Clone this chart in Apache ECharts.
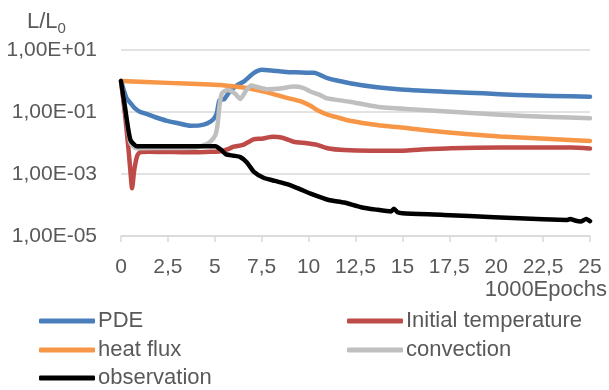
<!DOCTYPE html>
<html>
<head>
<meta charset="utf-8">
<script src="https://cdn.jsdelivr.net/npm/echarts@6/dist/echarts.min.js"></script>
<style>html,body{margin:0;padding:0;background:#fff}#c{width:609px;height:390px}</style>
</head>
<body>
<div id="c"></div>
<script>
// ---- data ----
const seriesNames = ["PDE", "Initial temperature", "heat flux", "convection", "observation"];
const xTicks = [0, 2.5, 5, 7.5, 10, 12.5, 15, 17.5, 20, 22.5, 25];

const pdeX = [0, 0.15, 0.3, 0.5, 0.75, 1.0, 1.4, 1.8, 2.45, 3.0, 3.7, 4.2, 4.6, 4.9, 5.1, 5.25, 5.5, 5.75, 6.2, 6.54, 7.07, 7.5, 8.0, 8.67, 9.3, 9.9, 10.3, 11.0, 12.2, 13.65, 15.4, 17.6, 19.3, 21.1, 23, 25];
const pdeY = [1.0, 0.5, 0.275, 0.195, 0.13, 0.102, 0.085, 0.069, 0.052, 0.044, 0.036, 0.037, 0.043, 0.056, 0.089, 0.24, 0.26, 0.42, 0.74, 0.95, 1.78, 2.29, 2.19, 2.0, 1.9, 1.86, 1.86, 1.23, 0.85, 0.63, 0.51, 0.44, 0.40, 0.355, 0.33, 0.31];

const tempX = [0, 0.2, 0.4, 0.5, 0.59, 0.7, 0.85, 1.0, 1.5, 2.5, 3.5, 4.5, 5.0, 5.3, 5.7, 6.0, 6.5, 7.07, 7.5, 8.1, 8.6, 9.2, 9.9, 10.45, 11.0, 11.9, 13.3, 14.7, 16, 17.6, 20.2, 22.9, 24, 25];
const tempY = [1.0, 0.1, 0.0063, 0.00126, 0.000347, 0.00126, 0.00363, 0.005, 0.00525, 0.00513, 0.005, 0.00513, 0.00525, 0.00537, 0.0063, 0.0076, 0.0087, 0.0132, 0.0138, 0.0158, 0.0148, 0.011, 0.0098, 0.0087, 0.0068, 0.0059, 0.0056, 0.0056, 0.0062, 0.0068, 0.0071, 0.0072, 0.0071, 0.0066];

const fluxX = [0, 2.5, 5.0, 5.3, 6.4, 7.0, 7.8, 8.8, 9.55, 10.1, 10.5, 11.0, 11.5, 12.2, 13.65, 15.4, 17.6, 20.2, 22.9, 25];
const fluxY = [1.0, 0.87, 0.76, 0.74, 0.63, 0.55, 0.43, 0.29, 0.224, 0.158, 0.112, 0.083, 0.068, 0.052, 0.038, 0.0295, 0.0214, 0.0162, 0.0135, 0.0117];

const convX = [0, 0.2, 0.5, 0.8, 1.0, 2.5, 4.0, 4.5, 4.76, 5.03, 5.15, 5.25, 5.38, 5.65, 5.83, 6.1, 6.36, 6.7, 6.95, 7.3, 7.8, 8.5, 9.2, 9.7, 10.1, 10.6, 11.0, 12.2, 13.65, 15.4, 17.6, 20.2, 22.9, 25];
const convY = [1.0, 0.158, 0.01, 0.0068, 0.0068, 0.0069, 0.0072, 0.0089, 0.011, 0.018, 0.04, 0.158, 0.40, 0.51, 0.49, 0.38, 0.263, 0.525, 0.71, 0.63, 0.54, 0.575, 0.66, 0.6, 0.457, 0.355, 0.275, 0.214, 0.148, 0.123, 0.102, 0.081, 0.069, 0.063];

const obsX = [0, 0.2, 0.5, 0.85, 2.5, 4.5, 5.03, 5.3, 5.6, 6.0, 6.36, 6.7, 7.07, 7.6, 8.2, 8.85, 9.56, 10.1, 11.07, 11.9, 12.8, 13.6, 14.4, 14.55, 14.75, 15.0, 17.2, 19.9, 22.5, 23.8, 23.95, 24.2, 24.5, 24.8, 25];
const obsY = [1.0, 0.158, 0.0126, 0.0079, 0.0079, 0.0079, 0.0079, 0.0063, 0.0043, 0.0039, 0.0035, 0.0024, 0.0012, 0.00076, 0.0006, 0.00047, 0.00032, 0.000234, 0.000145, 0.00012, 0.000085, 0.000071, 0.000062, 0.000076, 0.000058, 0.000054, 0.000048, 0.00004, 0.0000347, 0.0000331, 0.0000355, 0.0000316, 0.0000295, 0.0000355, 0.000030];

// ---- chart ----
const colors = ["#4a7ebb", "#be4b48", "#f79646", "#bfbfbf", "#000000"];
const xs = [pdeX, tempX, fluxX, convX, obsX];
const ys = [pdeY, tempY, fluxY, convY, obsY];
const FONT = "Liberation Sans";
const TXT = "#595959";

function sci(v) {
  const e = Math.round(Math.log10(v));
  const s = e < 0 ? "-" : "+";
  const a = Math.abs(e);
  return "1,00E" + s + (a < 10 ? "0" : "") + a;
}

const legendPos = [
  {left: 39, top: 309}, {left: 347, top: 309},
  {left: 39, top: 338}, {left: 347, top: 338},
  {left: 39, top: 366}
];

const chart = echarts.init(document.getElementById("c"), null, {renderer: "canvas"});
chart.setOption({
  animation: false,
  backgroundColor: "#fff",
  color: colors,
  title: {
    text: "{a|L/L}{b|0}",
    left: 27, top: 8, padding: 0,
    textStyle: {
      rich: {
        a: {fontFamily: FONT, fontSize: 22, color: TXT, fontWeight: "normal"},
        b: {fontFamily: FONT, fontSize: 15, color: TXT, padding: [13, 0, 0, 0], fontWeight: "normal"}
      }
    }
  },
  graphic: [{
    type: "text", right: 2, top: 279,
    style: {text: "1000Epochs", font: "22px '" + FONT + "'", fill: TXT}
  }],
  legend: seriesNames.map((n, i) => ({
    data: [n], left: legendPos[i].left, top: legendPos[i].top,
    icon: "roundRect", itemWidth: 56, itemHeight: 5, padding: 0,
    textStyle: {fontFamily: FONT, fontSize: 22, color: TXT, lineHeight: 24, padding: [0, 0, 0, -2]},
    selectedMode: false
  })),
  grid: {left: 121, right: 19, top: 50, bottom: 154, containLabel: false},
  xAxis: {
    type: "value", min: 0, max: 25, interval: 2.5,
    axisLine: {lineStyle: {color: "#d9d9d9", width: 1.5}},
    axisTick: {show: true, length: 6, lineStyle: {color: "#d9d9d9", width: 1.5}},
    splitLine: {show: false},
    axisLabel: {
      margin: 21, fontFamily: FONT, fontSize: 21, color: TXT,
      formatter: v => String(v).replace(".", ",")
    }
  },
  yAxis: {
    type: "log", logBase: 10, min: 1e-5, max: 10, interval: 2,
    axisLine: {show: false}, axisTick: {show: false},
    splitLine: {lineStyle: {color: "#d9d9d9", width: 1.5}},
    axisLabel: {margin: 24, fontFamily: FONT, fontSize: 21, color: TXT, formatter: sci}
  },
  series: seriesNames.map((n, i) => ({
    name: n, type: "line", showSymbol: false, symbol: "none",
    smooth: 0.2,
    lineStyle: {width: 4.5, color: colors[i], cap: "round", join: "round"},
    itemStyle: {color: colors[i]},
    data: xs[i].map((x, k) => [x, ys[i][k]])
  }))
});
</script>
</body>
</html>
